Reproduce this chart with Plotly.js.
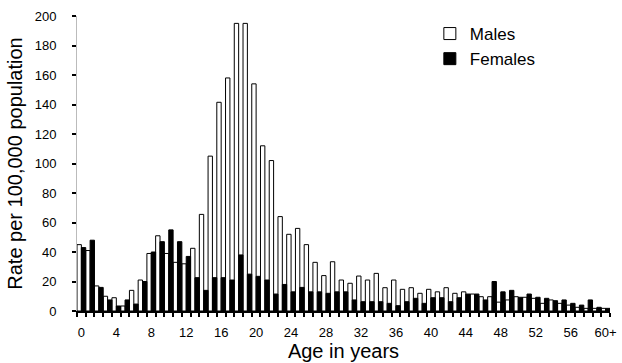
<!DOCTYPE html>
<html>
<head>
<meta charset="utf-8">
<script src="https://cdn.plot.ly/plotly-3.0.1.min.js"></script>
<style>
  html, body { margin: 0; padding: 0; background: #ffffff; }
  #chart { width: 622px; height: 363px; }
</style>
</head>
<body>
<div id="chart"></div>
<script>
const ages = [0,1,2,3,4,5,6,7,8,9,10,11,12,13,14,15,16,17,18,19,20,
  21,22,23,24,25,26,27,28,29,30,31,32,33,34,35,36,37,38,39,40,
  41,42,43,44,45,46,47,48,49,50,51,52,53,54,55,56,57,58,59,60];

const males = [45,41,17,10,9,3.4,14,21,39,51,39,33,32,42.5,65.5,105,141.5,158,195,195,154,
  112,102,64,52,56,45,33,24,33.4,21,18.8,23.7,21,25.5,15.8,21,14.7,15.8,12,14.7,
  13,15.8,12,13,11.5,9.7,9.7,6,7.5,9.7,9.3,8.6,5.2,7.5,5.2,4,2.5,1.8,1.8,1.8];

const females = [43,48,16,7.5,3.4,7.5,4.7,20,40,47,55,47,37,22.6,14,22.6,22.6,21,38,25,23.5,
  21,11.5,18,13,16,13,13,12,13,13,7.5,6.3,6.3,6.3,5.2,3.6,6.3,8.6,5.2,9,
  9,6.3,9,11.5,11.5,7.5,20,13,14,9.3,11.5,9.3,8.6,7,7.5,5.2,4,7.5,2.5,1.8];

const tickPositions = [0,4,8,12,16,20,24,28,32,36,40,44,48,52,56,60];
const tickLabels = ['0','4','8','12','16','20','24','28','32','36','40','44','48','52','56','60+'];

const FONT = 'Liberation Sans, Arial, sans-serif';

const data = [
  {
    type: 'bar', name: 'Males', x: ages, y: males,
    marker: { color: '#ffffff', line: { color: '#000000', width: 1 } }
  },
  {
    type: 'bar', name: 'Females', x: ages, y: females,
    marker: { color: '#000000', line: { color: '#000000', width: 1 } }
  }
];

const layout = {
  width: 622, height: 363,
  margin: { l: 77, r: 12, t: 16, b: 52, pad: 0 },
  paper_bgcolor: '#ffffff', plot_bgcolor: '#ffffff',
  barmode: 'group', bargap: 0, bargroupgap: 0,
  font: { family: FONT, color: '#000000', size: 13 },
  showlegend: true,
  legend: {
    x: 0.662, y: 1.0, xanchor: 'left', yanchor: 'top',
    bgcolor: 'rgba(0,0,0,0)', borderwidth: 0,
    font: { family: FONT, size: 17, color: '#000000' },
    tracegroupgap: 0
  },
  xaxis: {
    range: [-0.5, 60.5], autorange: false,
    tickmode: 'array', tickvals: tickPositions, ticktext: tickLabels,
    ticks: '', showgrid: false, zeroline: false,
    showline: true, linecolor: '#000000', linewidth: 2,
    ticklabelstandoff: 8,
    tickfont: { family: FONT, size: 13, color: '#000000' },
    minor: { tick0: -0.5, dtick: 1, ticks: 'outside', ticklen: 4, tickwidth: 2, tickcolor: '#000000', showgrid: false },
    title: { text: 'Age in years', font: { family: FONT, size: 20, color: '#000000' }, standoff: 4 },
    automargin: false, fixedrange: true
  },
  yaxis: {
    range: [0, 200], autorange: false,
    tickmode: 'linear', tick0: 0, dtick: 20,
    ticks: 'outside', ticklen: 4, tickwidth: 2, tickcolor: '#000000',
    showgrid: false, zeroline: false,
    showline: true, linecolor: '#bbbbbb', linewidth: 1,
    ticklabelstandoff: 13,
    tickfont: { family: FONT, size: 13, color: '#000000' },
    title: { text: 'Rate per 100,000 population', font: { family: FONT, size: 20, color: '#000000' }, standoff: 6 },
    automargin: false, fixedrange: true
  }
};

Plotly.newPlot('chart', data, layout, { staticPlot: true, displayModeBar: false });
</script>
</body>
</html>
